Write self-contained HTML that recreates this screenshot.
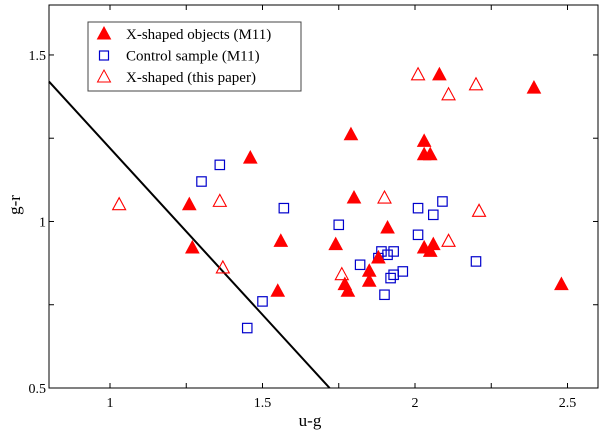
<!DOCTYPE html>
<html><head><meta charset="utf-8"><style>
body{margin:0;background:#fff}
svg{display:block;font-family:"Liberation Serif",serif}
</style></head><body>
<svg id="chart" width="600" height="434" viewBox="0 0 600 434">
<g id="marks"></g>
</svg>
<script>
const xTicks=[1,1.5,2,2.5];
const yTicks=[0.5,1,1.5];
const xMinor=[1.25,1.75,2.25];
const yMinor=[0.75,1.25];
const filledX=[1.46,1.26,1.27,1.56,1.55,2.08,2.39,1.79,2.03,2.03,2.05,1.80,1.91,1.74,2.03,2.06,2.05,1.88,1.85,1.85,1.77,1.78,2.48];
const filledY=[1.19,1.05,0.92,0.94,0.79,1.44,1.40,1.26,1.24,1.20,1.20,1.07,0.98,0.93,0.92,0.93,0.91,0.89,0.85,0.82,0.81,0.79,0.81];
const openX=[1.03,1.36,1.37,2.01,2.20,2.11,1.90,2.21,2.11,1.76];
const openY=[1.05,1.06,0.86,1.44,1.41,1.38,1.07,1.03,0.94,0.84];
const sqX=[1.30,1.36,1.57,1.50,1.45,1.75,2.01,2.09,2.06,2.01,2.20,1.82,1.89,1.91,1.93,1.88,1.96,1.93,1.92,1.90];
const sqY=[1.12,1.17,1.04,0.76,0.68,0.99,1.04,1.06,1.02,0.96,0.88,0.87,0.91,0.90,0.91,0.89,0.85,0.84,0.83,0.78];
const lineX=[0.8,1.72];
const lineY=[1.42,0.5];
const L=49,R=598,T=5,B=388,x0=0.8,x1=2.6,y0=0.5,y1=1.65;
const sx=v=>L+(v-x0)/(x1-x0)*(R-L);
const sy=v=>B-(v-y0)/(y1-y0)*(B-T);
const NS='http://www.w3.org/2000/svg';
const g=document.getElementById('marks');
function mk(tag,a,parent){const e=document.createElementNS(NS,tag);for(const k in a)e.setAttribute(k,a[k]);(parent||g).appendChild(e);return e;}
let ln=mk('line',{x1:sx(lineX[0]),y1:sy(lineY[0]),x2:sx(lineX[1]),y2:sy(lineY[1]),stroke:'#000','stroke-width':2});


function tri(x,y,filled,name){
  const s=6.5;
  const p=mk('polygon',{points:`${x-s},${y+s*0.75} ${x+s},${y+s*0.75} ${x},${y-s*1.1}`,fill:filled?'#f00':'none',stroke:'#f00','stroke-width':filled?1:1.1});
  
  
}
function sq(x,y,name){
  const p=mk('rect',{x:x-4.7,y:y-4.7,width:9.4,height:9.4,fill:'none',stroke:'#00c','stroke-width':1.2});
  
  
}
openX.forEach((v,i)=>tri(sx(v),sy(openY[i]),false,'open-triangle-point'));
sqX.forEach((v,i)=>sq(sx(v),sy(sqY[i]),'control-square-point'));
filledX.forEach((v,i)=>tri(sx(v),sy(filledY[i]),true,'filled-triangle-point'));
let fr=mk('rect',{x:L,y:T,width:R-L,height:B-T,fill:'none',stroke:'#000','stroke-width':1});


function tickX(v,lab){
  const x=sx(v);
  mk('line',{x1:x,y1:B,x2:x,y2:B-5,stroke:'#000'});
  mk('line',{x1:x,y1:T,x2:x,y2:T+5,stroke:'#000'});
  if(lab!==null){const t=mk('text',{x:x,y:B+19,'text-anchor':'middle','font-size':14});t.textContent=lab;
  
  }
}
function tickY(v,lab){
  const y=sy(v);
  mk('line',{x1:L,y1:y,x2:L+5,y2:y,stroke:'#000'});
  mk('line',{x1:R,y1:y,x2:R-5,y2:y,stroke:'#000'});
  if(lab!==null){const t=mk('text',{x:L-3,y:y+5,'text-anchor':'end','font-size':14});t.textContent=lab;
  
  }
}
xTicks.forEach(v=>tickX(v,String(v)));
xMinor.forEach(v=>tickX(v,null));
yTicks.forEach(v=>tickY(v,String(v)));
yMinor.forEach(v=>tickY(v,null));
</script>
<script>
(function(){
const svg=document.getElementById('chart');
const NS='http://www.w3.org/2000/svg';
const xt=document.createElementNS(NS,'text');
xt.setAttribute('x',310);xt.setAttribute('y',426);xt.setAttribute('text-anchor','middle');xt.setAttribute('font-size',17);
xt.textContent='u-g';


svg.appendChild(xt);
const yt=document.createElementNS(NS,'text');
yt.setAttribute('transform','translate(20,205) rotate(-90)');yt.setAttribute('text-anchor','middle');yt.setAttribute('font-size',17);
yt.textContent='g-r';


svg.appendChild(yt);
const lg=document.createElementNS(NS,'g');


svg.appendChild(lg);
const box=document.createElementNS(NS,'rect');
box.setAttribute('x',88);box.setAttribute('y',22);box.setAttribute('width',213);box.setAttribute('height',69);
box.setAttribute('fill','#fff');box.setAttribute('stroke','#444');
lg.appendChild(box);
const items=[['X-shaped objects (M11)','f'],['Control sample (M11)','s'],['X-shaped (this paper)','o']];
items.forEach((it,i)=>{
  const y=34+i*21.5;
  let m;
  if(it[1]==='s'){m=document.createElementNS(NS,'rect');m.setAttribute('x',99.5);m.setAttribute('y',y-4.5);m.setAttribute('width',9);m.setAttribute('height',9);m.setAttribute('fill','none');m.setAttribute('stroke','#00c');m.setAttribute('stroke-width',1.2);}
  else{m=document.createElementNS(NS,'polygon');m.setAttribute('points',`${104-6.5},${y+5} ${104+6.5},${y+5} 104,${y-7}`);m.setAttribute('fill',it[1]==='f'?'#f00':'none');m.setAttribute('stroke','#f00');}
  
  
  lg.appendChild(m);
  const t=document.createElementNS(NS,'text');
  t.setAttribute('x',126);t.setAttribute('y',y+5);t.setAttribute('font-size',15);
  t.textContent=it[0];
  
  
  lg.appendChild(t);
});
})();
</script>
</body></html>
